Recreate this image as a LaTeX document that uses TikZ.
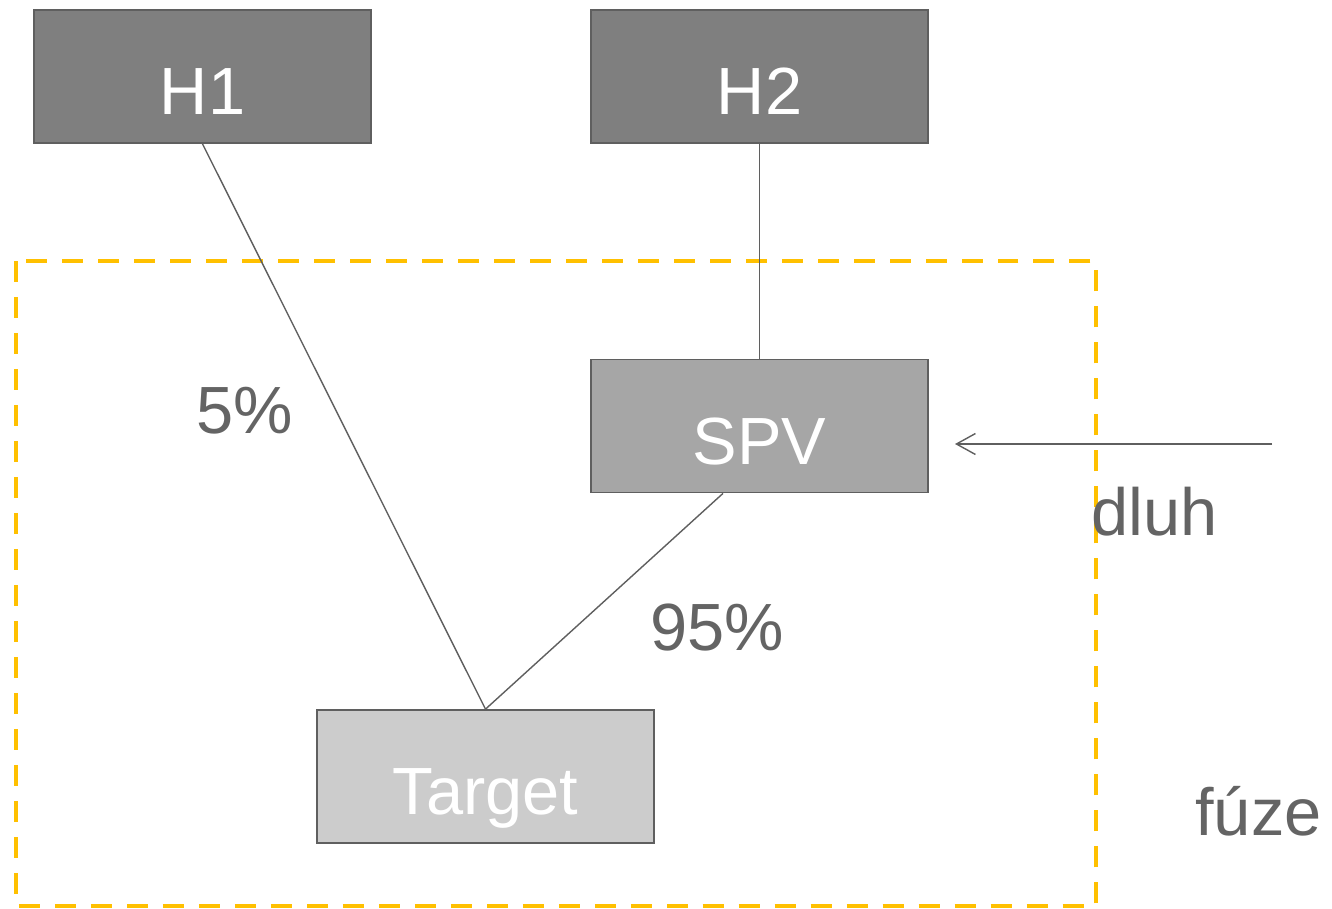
\documentclass[tikz,border=0pt]{standalone}
\usepackage{fontspec}
\setmainfont{Liberation Sans}
\usetikzlibrary{arrows.meta}
\definecolor{darkbox}{HTML}{7F7F7F}
\definecolor{midbox}{HTML}{A6A6A6}
\definecolor{lightbox}{HTML}{CCCCCC}
\definecolor{edgegray}{HTML}{5F5F5F}
\definecolor{labelgray}{HTML}{646464}
\definecolor{fusionyellow}{HTML}{FFC000}
\begin{document}
\begin{tikzpicture}[
	x=0.02cm, y=-0.02cm,
	box/.style={draw=edgegray, line width=1pt, rectangle, minimum width=6.74cm, minimum height=2.66cm,
		inner sep=0pt, text=white, text height=1.54cm, text depth=0pt, font=\fontsize{38}{46}\selectfont},
	tag/.style={anchor=base west, inner sep=0pt, text=labelgray, font=\fontsize{38}{46}\selectfont},
	link/.style={draw=edgegray, line width=0.8pt},
	fusion/.style={draw=fusionyellow, line width=2.3pt, dash pattern=on 0.42cm off 0.3cm},
	]
	\useasboundingbox (0,0) rectangle (1332,909);

	%-----------------------
	% Fusion frame
	%-----------------------
	\draw[fusion] (16,261) rectangle (1096,906);

	%-----------------------
	% Shareholders
	%-----------------------
	\node[box, fill=darkbox] (H1) at (202.5,76.5) {H1};
	\node[box, fill=darkbox] (H2) at (759.5,76.5) {H2};

	%-----------------------
	% SPV and target
	%-----------------------
	\node[box, fill=midbox] (SPV) at (759.5,426) {SPV};
	\node[box, fill=lightbox] (T) at (485.5,776.5) {Target};

	%-----------------------
	% Labels
	%-----------------------
	\node[tag] (p5) at (196,433) {5\%};
	\node[tag] (p95) at (650,650) {95\%};
	\node[tag] (dluh) at (1091,535) {dluh};
	\node[tag] (fuze) at (1195,835) {fúze};

	%-----------------------
	% Connections
	%-----------------------
	\coordinate (debt-in) at (1272,444);
	\coordinate (debt-out) at (955,444);

	\draw[link] (H1.south) -- (T.north);
	\draw[link] (H2.south) -- (SPV.north);
	\draw[link] ([xshift=-0.73cm]SPV.south) -- (T.north);
	\draw[link, -{Straight Barb[length=0.38cm, width=0.42cm, line width=0.8pt]}] (debt-in) -- (debt-out);

\end{tikzpicture}
\end{document}
